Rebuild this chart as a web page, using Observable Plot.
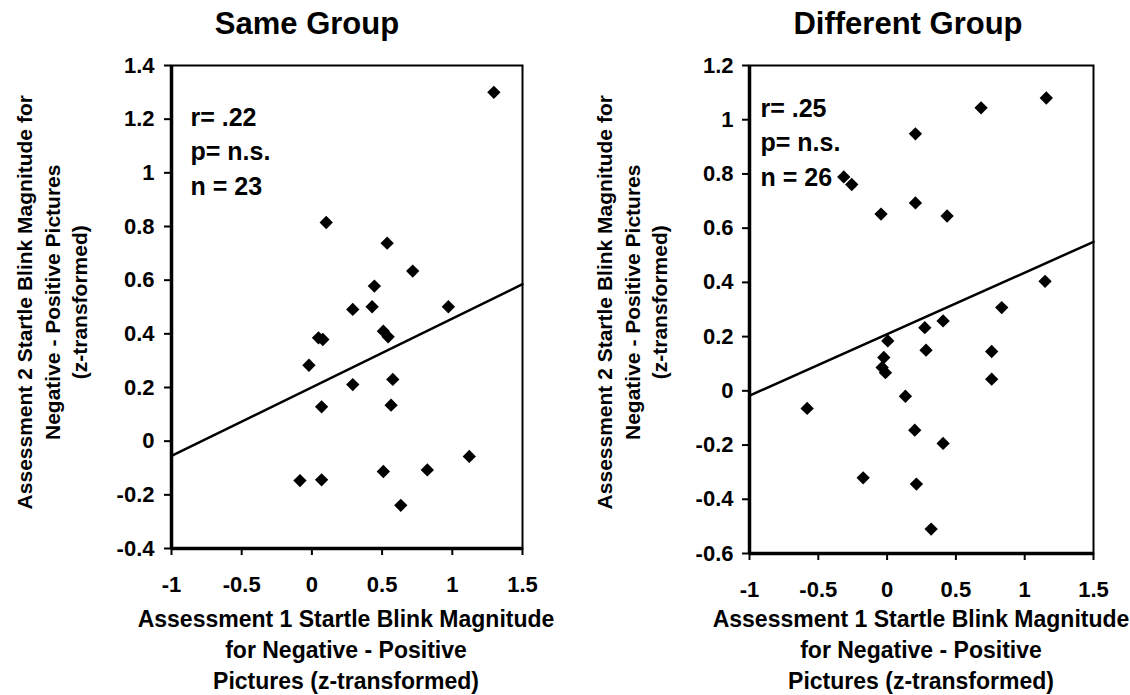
<!DOCTYPE html>
<html><head><meta charset="utf-8">
<script src="https://cdn.jsdelivr.net/npm/d3@7"></script>
<script src="https://cdn.jsdelivr.net/npm/@observablehq/plot@0.6"></script>
<style>
body{margin:0;background:#fff}
#wrap{position:relative;width:1130px;height:695px;overflow:hidden;font-family:"Liberation Sans",Arial,sans-serif;font-weight:bold;color:#000;background:#fff}
.abs{position:absolute;white-space:nowrap}
.title{font-size:31px;line-height:31px;width:400px;text-align:center}
.ylab{font-size:21px;line-height:27.5px;width:520px;height:82.5px;text-align:center;transform:rotate(-90deg);transform-origin:50% 50%}
.xlab{font-size:23px;line-height:31px;width:500px;text-align:center}
.panel{position:absolute;top:0}
</style></head>
<body><div id="wrap"></div>
<script>
// ---- data: Same Group (n = 23)
const sameX = [-0.021, 0.047, 0.078, 0.291, 0.429, 0.509, 0.543, 0.972, 0.291, 0.069, 0.576, 0.564, -0.085, 0.069, 0.509, 0.822, 1.121, 0.633, 1.296, 0.102, 0.536, 0.718, 0.445];
const sameY = [0.283, 0.385, 0.379, 0.491, 0.501, 0.410, 0.389, 0.501, 0.211, 0.128, 0.230, 0.134, -0.147, -0.144, -0.113, -0.107, -0.057, -0.239, 1.300, 0.815, 0.738, 0.634, 0.578];
const sameFit = [0.201, 0.256]; // intercept, slope
const sameStats = ["r= .22", "p= n.s.", "n = 23"];
const sameYTicks = [-0.4, -0.2, 0, 0.2, 0.4, 0.6, 0.8, 1, 1.2, 1.4];

// ---- data: Different Group (n = 26)
const diffX = [-0.581, -0.174, -0.036, -0.024, -0.012, 0.005, 0.133, 0.201, 0.213, 0.274, 0.283, 0.320, 0.407, 0.407, 0.760, 0.760, 0.833, -0.315, -0.257, -0.044, 0.206, 0.206, 0.436, 0.683, 1.157, 1.148];
const diffY = [-0.065, -0.321, 0.086, 0.123, 0.067, 0.184, -0.020, -0.145, -0.344, 0.233, 0.150, -0.510, 0.258, -0.194, 0.145, 0.043, 0.307, 0.789, 0.761, 0.652, 0.948, 0.693, 0.645, 1.044, 1.080, 0.404];
const diffFit = [0.209, 0.227]; // intercept, slope
const diffStats = ["r= .25", "p= n.s.", "n = 26"];
const diffYTicks = [-0.6, -0.4, -0.2, 0, 0.2, 0.4, 0.6, 0.8, 1, 1.2];

const xTicks = [-1, -0.5, 0, 0.5, 1, 1.5];
const titles = ["Same Group", "Different Group"];
const xLabelLines = ["Assessment 1 Startle Blink Magnitude", "for Negative - Positive", "Pictures (z-transformed)"];
const yLabelLines = ["Assessment 2 Startle Blink Magnitude for", "Negative - Positive Pictures", "(z-transformed)"];

const FONT = '"Liberation Sans", Arial, sans-serif';
const fmt = d => String(d);

function panel(xs, ys, fit, stats, yTicks, m, statDx, statDy) {
  const pts = xs.map((x, i) => ({x, y: ys[i]}));
  const xDom = [xTicks[0], xTicks[xTicks.length - 1]];
  const yDom = [yTicks[0], yTicks[yTicks.length - 1]];
  const fitLine = xDom.map(x => ({x, y: fit[0] + fit[1] * x}));
  return Plot.plot({
    width: 565, height: 695,
    marginLeft: m.l, marginRight: m.r, marginTop: m.t, marginBottom: m.b,
    x: {domain: xDom},
    y: {domain: yDom},
    style: {fontFamily: FONT, fontWeight: "bold", fontSize: "22px", color: "#000", background: "transparent", overflow: "visible"},
    marks: [
      Plot.frame({stroke: "#000", strokeWidth: 2}),
      Plot.axisX({ticks: xTicks, tickFormat: fmt, tickSize: 7, tickPadding: 21, strokeWidth: 2, label: null, fontSize: 22, fontWeight: "bold"}),
      Plot.axisY({ticks: yTicks, tickFormat: fmt, tickSize: 7, tickPadding: m.tp, strokeWidth: 2, label: null, fontSize: 22, fontWeight: "bold"}),
      Plot.ruleX([xDom[0]], {stroke: "#000", strokeWidth: 3.5}),
      Plot.ruleY([yDom[0]], {stroke: "#000", strokeWidth: 3.5}),
      Plot.line(fitLine, {x: "x", y: "y", stroke: "#000", strokeWidth: 2.5}),
      Plot.dot(pts, {x: "x", y: "y", symbol: "diamond2", r: 6, fill: "#000", stroke: null}),
      Plot.text([stats.join("\n")], {frameAnchor: "top-left", textAnchor: "start", lineAnchor: "top", dx: statDx, dy: statDy, lineHeight: 1.38, fontSize: 25, fontWeight: "bold", fill: "#000"})
    ]
  });
}

const wrap = document.getElementById("wrap");
function addDiv(cls, html, css) {
  const d = document.createElement("div");
  d.className = "abs " + cls;
  d.innerHTML = html;
  Object.assign(d.style, css);
  wrap.appendChild(d);
  return d;
}

const left = panel(sameX, sameY, sameFit, sameStats, sameYTicks, {l: 171, r: 43, t: 65, b: 147, tp: 10}, 19, 36);
left.classList.add("panel"); left.style.left = "0px";
wrap.appendChild(left);

const right = panel(diffX, diffY, diffFit, diffStats, diffYTicks, {l: 184, r: 37, t: 65, b: 142, tp: 9}, 11, 27);
right.classList.add("panel"); right.style.left = "565px";
wrap.appendChild(right);

// titles
addDiv("title", titles[0], {left: (307 - 200) + "px", top: "8px"});
addDiv("title", titles[1], {left: (908 - 200) + "px", top: "8px"});
// y labels
addDiv("ylab", yLabelLines.join("<br>"), {left: (52 - 260) + "px", top: (302 - 41.25) + "px"});
addDiv("ylab", yLabelLines.join("<br>"), {left: (632 - 260) + "px", top: (302 - 41.25) + "px"});
// x labels
addDiv("xlab", xLabelLines.join("<br>"), {left: (346 - 250) + "px", top: "604px"});
addDiv("xlab", xLabelLines.join("<br>"), {left: (921 - 250) + "px", top: "604px"});
</script>
</body></html>
